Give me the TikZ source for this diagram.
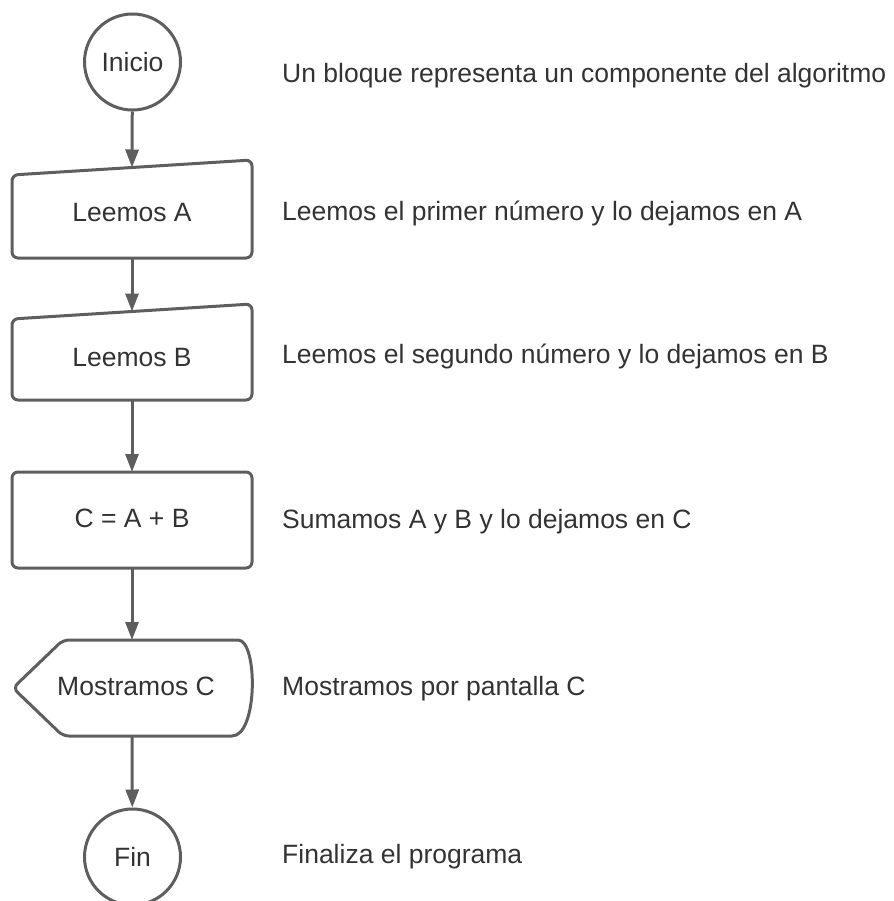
\documentclass[tikz,border=0pt]{standalone}
\usepackage{fontspec}
\setmainfont{Liberation Sans}
\usetikzlibrary{arrows.meta}
\definecolor{edge}{HTML}{5E5E5E}
\definecolor{ink}{HTML}{333333}
\tikzset{
  shapeline/.style={draw=edge, line width=3pt, rounded corners=6pt, fill=white},
  label/.style={text=ink, font=\fontsize{26.5}{30}\selectfont, inner sep=0pt},
  note/.style={label, anchor=base west},
  flow/.style={draw=edge, line width=3pt, -{Triangle[length=18pt,width=13pt]}},
  terminal/.style={shapeline, circle, minimum size=96pt, inner sep=0pt, label}
}
\begin{document}
\begin{tikzpicture}[x=1pt, y=-1pt]
\useasboundingbox (0,0) rectangle (893,901);

% start / end
\node[terminal] (inicio) at (132.5,62) {Inicio};
\node[terminal] (fin) at (132.5,857) {Fin};

% manual input: Leemos A
\path[shapeline] (12,175) -- (252,160) -- (252,258) -- (12,258) -- cycle;
\node[label, anchor=base] (leerA) at (132,222) {Leemos A};
\coordinate (leerAtop) at (132,167.5);
\coordinate (leerAbot) at (132,258);

% manual input: Leemos B
\path[shapeline] (12,319) -- (252,304) -- (252,400) -- (12,400) -- cycle;
\node[label, anchor=base] (leerB) at (132,366) {Leemos B};
\coordinate (leerBtop) at (132,311.5);
\coordinate (leerBbot) at (132,400);

% process: C = A + B
\path[shapeline] (12,472) rectangle (252,568);
\node[label, anchor=base] (suma) at (132,527) {C = A + B};
\coordinate (sumatop) at (132,472);
\coordinate (sumabot) at (132,568);

% display: Mostramos C
\path[shapeline] (63,640) -- (232,640) [sharp corners] .. controls (258,640) and (258,736) .. (232,736)
  [rounded corners=6pt] -- (63,736) -- (13,688) -- cycle;
\node[label, anchor=base] (mostrar) at (136,695) {Mostramos C};
\coordinate (mostrartop) at (132,640);
\coordinate (mostrarbot) at (132,736);

% connectors
\draw[flow] (inicio) -- (leerAtop);
\draw[flow] (leerAbot) -- (leerBtop);
\draw[flow] (leerBbot) -- (sumatop);
\draw[flow] (sumabot) -- (mostrartop);
\draw[flow] (mostrarbot) -- (fin);

% explanations
\node[note] (n1) at (282,83) {Un bloque representa un componente del algoritmo};
\node[note] (n2) at (282,221) {Leemos el primer número y lo dejamos en A};
\node[note] (n3) at (282,363) {Leemos el segundo número y lo dejamos en B};
\node[note] (n4) at (282,528) {Sumamos A y B y lo dejamos en C};
\node[note] (n5) at (282,695) {Mostramos por pantalla C};
\node[note] (n6) at (282,863) {Finaliza el programa};
\end{tikzpicture}
\end{document}
